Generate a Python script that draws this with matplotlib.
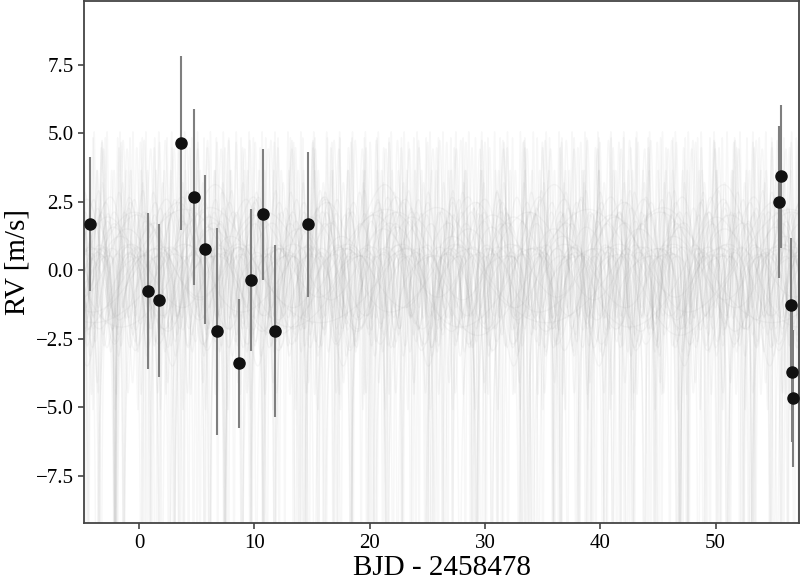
import numpy as np
import matplotlib.pyplot as plt

plt.rcParams['font.family'] = ['Liberation Serif', 'DejaVu Serif']

# observed RVs (BJD - 2458478, m/s)
t_obs = [-4.25, 0.78, 1.73, 3.64, 4.77, 5.72, 6.77, 8.67, 9.71, 10.75, 11.80,
         14.66, 55.50, 55.70, 56.50, 56.60, 56.75]
rv_obs = [1.68, -0.77, -1.10, 4.64, 2.68, 0.77, -2.23, -3.39, -0.36, 2.04, -2.23,
          1.68, 2.48, 3.43, -1.28, -3.70, -4.67]
rv_err = [2.45, 2.85, 2.80, 3.17, 3.22, 2.72, 3.78, 2.35, 2.60, 2.40, 3.14,
          2.65, 2.78, 2.60, 2.45, 2.55, 2.50]

# posterior draws of the Keplerian model: period, K, e, omega, t_peri, offset
P_draw = [2.37, 3.21, 4.08, 2.76, 5.42, 3.64, 2.19, 4.71, 3.03, 6.30, 2.58, 3.93, 2.91, 4.36,
          1.12, 2.47, 1.83, 3.05, 1.45, 2.72, 1.66, 3.52, 2.15, 1.28, 2.98, 1.95,
          3.84, 1.53, 2.36, 1.07, 3.27, 2.58, 1.74, 2.04,
          6.90, 11.40, 8.20, 14.70, 5.10, 9.60, 7.40, 12.90, 6.20, 10.30, 5.60,
          17.50, 8.80, 19.60]
K_draw = [7.0, 9.0, 6.5, 8.0, 10.0, 7.5, 6.0, 11.0, 8.5, 6.8, 9.5, 7.2, 12.0, 6.2,
          3.4, 2.6, 3.2, 2.9, 3.2, 2.2, 3.4, 2.7, 3.5, 3.0, 2.4, 3.6,
          2.8, 3.1, 2.5, 3.1, 2.3, 3.3, 2.9, 3.3,
          2.2, 1.6, 1.9, 2.6, 1.7, 1.3, 2.5, 2.0, 2.8, 1.5, 2.4, 2.3, 1.8, 2.1]
e_draw = [0.80, 0.85, 0.78, 0.82, 0.88, 0.80, 0.76, 0.86, 0.83, 0.79, 0.84, 0.81, 0.90, 0.77,
          0.40, 0.25, 0.35, 0.45, 0.30, 0.20, 0.38, 0.28, 0.42, 0.33, 0.22, 0.47,
          0.31, 0.36, 0.26, 0.44, 0.21, 0.39, 0.29, 0.34,
          0.15, 0.05, 0.12, 0.22, 0.30, 0.10, 0.28, 0.18, 0.25, 0.06, 0.20, 0.08, 0.11, 0.14]
w_draw = [3.10, 3.30, 2.90, 3.20, 3.00, 3.40, 2.80, 3.10, 3.25, 2.95, 3.15, 3.35, 3.05, 2.85,
          0.10, 2.10, 5.90, 3.20, 0.50, 4.40, 6.10, 1.60, 2.90, 0.30, 5.20, 3.50,
          0.80, 6.00, 2.40, 0.20, 4.00, 3.00, 5.50, 0.60,
          1.30, 3.00, 4.60, 0.40, 2.40, 5.00, 3.30, 0.70, 1.90, 4.90, 6.00, 2.00, 3.80, 0.20]
tp_draw = [0.3, 1.1, 2.0, 0.7, 3.5, 0.2, 0.9, 1.4, 1.7, 2.6, 0.5, 1.8, 1.0, 3.0,
           0.6, 2.9, 0.4, 2.5, 0.8, 1.2, 0.1, 3.7, 2.3, 1.5, 0.9, 1.9,
           0.6, 1.3, 2.1, 0.3, 2.8, 1.6, 0.2, 1.1,
           3.5, 5.0, 4.1, 7.2, 2.9, 6.3, 3.0, 4.4, 5.1, 8.0, 4.6, 9.1, 2.8, 6.7]
off_draw = [-0.9, -0.6, -1.0, -0.8, -0.5, -0.9, -1.1, -0.6, -0.7, -1.0, -0.6, -0.9, -0.4, -1.1,
            0.3, -0.2, 0.5, 0.1, -0.4, 0.2, 0.0, -0.1, 0.4, -0.3, 0.2, 0.1,
            -0.5, 0.3, 0.0, 0.4, -0.2, 0.1, -0.3, 0.2,
            0.3, 0.6, -0.3, 0.0, 0.4, -0.1, -0.3, 0.2, 0.1, 0.5, -0.2, 0.0, 0.3, -0.1]


def kepler_rv(t, P, K, e, w, tp, off):
    M = 2 * np.pi * (t - tp) / P
    E = M.copy()
    for _ in range(60):
        E = E - (E - e * np.sin(E) - M) / (1 - e * np.cos(E))
    nu = 2 * np.arctan2(np.sqrt(1 + e) * np.sin(E / 2), np.sqrt(1 - e) * np.cos(E / 2))
    return K * (np.cos(nu + w) + e * np.cos(w)) + off


t_model = np.linspace(-6, 59, 12000)

fig, ax = plt.subplots(figsize=(8, 5.82), dpi=100)
for p in zip(P_draw, K_draw, e_draw, w_draw, tp_draw, off_draw):
    ax.plot(t_model, kepler_rv(t_model, *p), color='#9a9a9a', alpha=0.08, lw=1.0, zorder=1)

ax.errorbar(t_obs, rv_obs, yerr=rv_err, fmt='o', color='#111111', ecolor='#7f7f7f',
            elinewidth=1.5, ms=8, capsize=0, zorder=3)

ax.set_xlim(-4.77, 57.25)
ax.set_ylim(-9.23, 9.82)
ax.set_xlabel('BJD - 2458478', fontsize=21, labelpad=2)
ax.set_ylabel('RV [m/s]', fontsize=21, labelpad=4)
ax.tick_params(labelsize=15, color='#444444', length=4, width=1.2)
for s in ax.spines.values():
    s.set_color('#444444')
    s.set_linewidth(1.3)

fig.subplots_adjust(left=0.105, right=0.999, top=0.998, bottom=0.101)
fig.savefig('out.png', dpi=100)
